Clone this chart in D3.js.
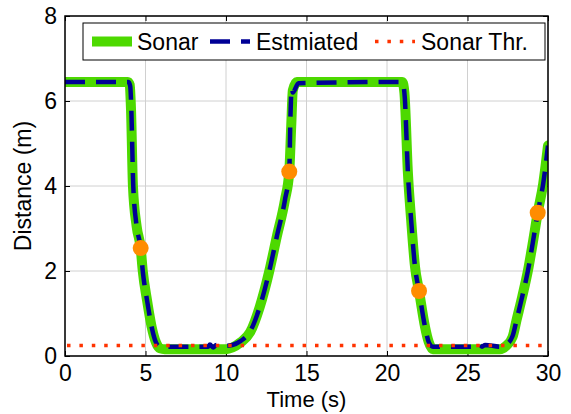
<!DOCTYPE html>
<html>
<head>
<meta charset="utf-8">
<script src="https://cdn.jsdelivr.net/npm/d3@7"></script>
<style>
  body { margin: 0; background: #fff; }
  text { font-family: Arial, "Liberation Sans", sans-serif; fill: #000; }
</style>
</head>
<body>
<svg id="chart" width="571" height="414"></svg>
<script>
// Sonar range reading over time (s, m)
const sonarTime = [0, 3.9, 4.02, 4.1, 4.22, 4.45, 4.7, 4.83, 5.1, 5.38, 5.65, 5.9, 6.2, 10.0, 10.4, 10.9, 11.5, 12.1, 12.69, 13.15, 13.66, 13.93, 14.05, 14.15, 14.4, 20.95, 21.08, 21.3, 21.5, 21.74, 21.99, 22.36, 22.6, 22.85, 27.0, 27.4, 27.8, 28.05, 28.4, 28.76, 29.05, 29.36, 29.7, 30];
const sonarDist = [6.45, 6.45, 6.38, 5.8, 4.0, 3.05, 2.54, 2.0, 1.3, 0.69, 0.32, 0.18, 0.16, 0.16, 0.2, 0.32, 0.56, 1.16, 2.0, 2.8, 3.67, 4.34, 5.4, 6.25, 6.45, 6.45, 6.2, 4.3, 3.2, 2.1, 1.53, 0.69, 0.32, 0.16, 0.16, 0.24, 0.45, 0.85, 1.4, 2.02, 2.65, 3.37, 4.05, 4.95];

// Filter estimate (s, m)
const estTime = [0, 3.95, 4.05, 4.12, 4.24, 4.45, 4.7, 4.83, 5.1, 5.38, 5.65, 5.9, 6.2, 8.9, 9.0, 9.2, 9.4, 10.0, 10.4, 10.9, 11.5, 12.1, 12.69, 13.15, 13.66, 13.93, 14.0, 14.08, 14.15, 14.5, 20.9, 21.0, 21.1, 21.3, 21.5, 21.74, 21.99, 22.36, 22.6, 22.85, 25.6, 25.7, 25.9, 26.1, 27.0, 27.4, 27.8, 28.05, 28.4, 28.76, 29.05, 29.36, 29.7, 30];
const estDist = [6.45, 6.45, 6.35, 5.8, 4.0, 3.05, 2.54, 2.0, 1.3, 0.69, 0.32, 0.22, 0.22, 0.22, 0.27, 0.2, 0.26, 0.24, 0.26, 0.35, 0.58, 1.16, 2.0, 2.8, 3.67, 4.34, 5.6, 6.3, 6.2, 6.42, 6.45, 6.4, 6.1, 4.3, 3.2, 2.1, 1.53, 0.69, 0.32, 0.22, 0.22, 0.28, 0.22, 0.26, 0.22, 0.27, 0.47, 0.85, 1.4, 2.02, 2.65, 3.37, 4.05, 4.95];

// Sonar detection threshold (m)
const sonarThreshold = 0.25;

// Highlighted samples (s, m)
const markTime = [4.70, 13.93, 21.99, 29.36];
const markDist = [2.54, 4.34, 1.53, 3.37];

const xTicks = [0, 5, 10, 15, 20, 25, 30];
const yTicks = [0, 2, 4, 6, 8];

const legendLabels = ["Sonar", "Estmiated", "Sonar Thr."];

const colors = { sonar: "#4dd900", est: "#000096", thr: "#ff3300", mark: "#ff8c00" };

const margin = { left: 65, right: 23, top: 16, bottom: 58 };
const W = 571, H = 414;
const svg = d3.select("#chart");

const x = d3.scaleLinear().domain([0, 30]).range([margin.left, W - margin.right]);
const y = d3.scaleLinear().domain([0, 8]).range([H - margin.bottom, margin.top]);

const plotLeft = x(0), plotRight = x(30), plotTop = y(8), plotBottom = y(0);

const clipId = "plotclip";
svg.append("defs").append("clipPath").attr("id", clipId)
  .append("rect").attr("x", plotLeft).attr("y", plotTop)
  .attr("width", plotRight - plotLeft).attr("height", plotBottom - plotTop);

// grid
const grid = svg.append("g").attr("stroke", "#d0d0d0").attr("stroke-width", 1);
xTicks.forEach(t => grid.append("line").attr("x1", x(t)).attr("x2", x(t)).attr("y1", plotTop).attr("y2", plotBottom));
yTicks.forEach(t => grid.append("line").attr("y1", y(t)).attr("y2", y(t)).attr("x1", plotLeft).attr("x2", plotRight));

// axes with inward ticks on all four sides
const tickLen = 5;
const bottomAxis = d3.axisBottom(x).tickValues(xTicks).tickSizeInner(-tickLen).tickSizeOuter(0).tickPadding(9);
const leftAxis = d3.axisLeft(y).tickValues(yTicks).tickSizeInner(-tickLen).tickSizeOuter(0).tickPadding(8);
const topAxis = d3.axisTop(x).tickValues(xTicks).tickSizeInner(-tickLen).tickSizeOuter(0).tickFormat("");
const rightAxis = d3.axisRight(y).tickValues(yTicks).tickSizeInner(-tickLen).tickSizeOuter(0).tickFormat("");

function styleAxis(g) {
  g.select(".domain").remove();
  g.selectAll(".tick line").attr("stroke", "#000").attr("stroke-width", 1);
  g.selectAll("text").attr("font-size", 23).attr("font-family", "Arial, 'Liberation Sans', sans-serif").attr("fill", "#000");
}

svg.append("g").attr("transform", `translate(0,${plotBottom})`).call(bottomAxis).call(styleAxis);
svg.append("g").attr("transform", `translate(${plotLeft},0)`).call(leftAxis).call(styleAxis);
svg.append("g").attr("transform", `translate(0,${plotTop})`).call(topAxis).call(styleAxis);
svg.append("g").attr("transform", `translate(${plotRight},0)`).call(rightAxis).call(styleAxis);

// data layer
const plot = svg.append("g").attr("clip-path", `url(#${clipId})`);
const line = d3.line().x(d => x(d[0])).y(d => y(d[1])).curve(d3.curveMonotoneX);

plot.append("path")
  .datum(sonarTime.map((t, i) => [t, sonarDist[i]]))
  .attr("d", line).attr("fill", "none").attr("stroke", colors.sonar)
  .attr("stroke-width", 10).attr("stroke-linejoin", "round").attr("stroke-linecap", "round");

plot.append("path")
  .datum(estTime.map((t, i) => [t, estDist[i]]))
  .attr("d", line).attr("fill", "none").attr("stroke", colors.est)
  .attr("stroke-width", 4.5).attr("stroke-dasharray", "20,11").attr("stroke-linejoin", "round");

plot.append("line")
  .attr("x1", plotLeft + 2).attr("x2", plotRight).attr("y1", y(sonarThreshold)).attr("y2", y(sonarThreshold))
  .attr("stroke", colors.thr).attr("stroke-width", 3.5).attr("stroke-dasharray", "3.5,8.9");

plot.selectAll("circle.mark").data(markTime.map((t, i) => [t, markDist[i]]))
  .join("circle").attr("class", "mark")
  .attr("cx", d => x(d[0])).attr("cy", d => y(d[1])).attr("r", 8)
  .attr("fill", colors.mark);

// axis frame
svg.append("rect").attr("x", plotLeft).attr("y", plotTop)
  .attr("width", plotRight - plotLeft).attr("height", plotBottom - plotTop)
  .attr("fill", "none").attr("stroke", "#000").attr("stroke-width", 1.5);

// axis titles
svg.append("text").attr("x", (plotLeft + plotRight) / 2).attr("y", 407)
  .attr("text-anchor", "middle").attr("font-size", 22).text("Time (s)");
svg.append("text").attr("transform", `translate(31,${(plotTop + plotBottom) / 2}) rotate(-90)`)
  .attr("text-anchor", "middle").attr("font-size", 23).text("Distance (m)");

// legend
const lg = svg.append("g");
const lgX = 83, lgY = 23, lgW = 462, lgH = 37;
lg.append("rect").attr("x", lgX).attr("y", lgY).attr("width", lgW).attr("height", lgH)
  .attr("fill", "#fff").attr("stroke", "#000").attr("stroke-width", 1);
const lgMid = lgY + lgH / 2;
const lgItems = [
  { x0: 92, tx: 137, stroke: colors.sonar, w: 10, dash: null },
  { x0: 210, tx: 256, stroke: colors.est, w: 4.5, dash: "20,11" },
  { x0: 375, tx: 421, stroke: colors.thr, w: 3.5, dash: "3.5,8.9" }
];
lgItems.forEach((it, i) => {
  const l = lg.append("line").attr("x1", it.x0).attr("x2", it.x0 + 40)
    .attr("y1", lgMid).attr("y2", lgMid).attr("stroke", it.stroke).attr("stroke-width", it.w);
  if (it.dash) l.attr("stroke-dasharray", it.dash);
  lg.append("text").attr("x", it.tx).attr("y", lgMid + 8).attr("font-size", 23).text(legendLabels[i]);
});
</script>
</body>
</html>
